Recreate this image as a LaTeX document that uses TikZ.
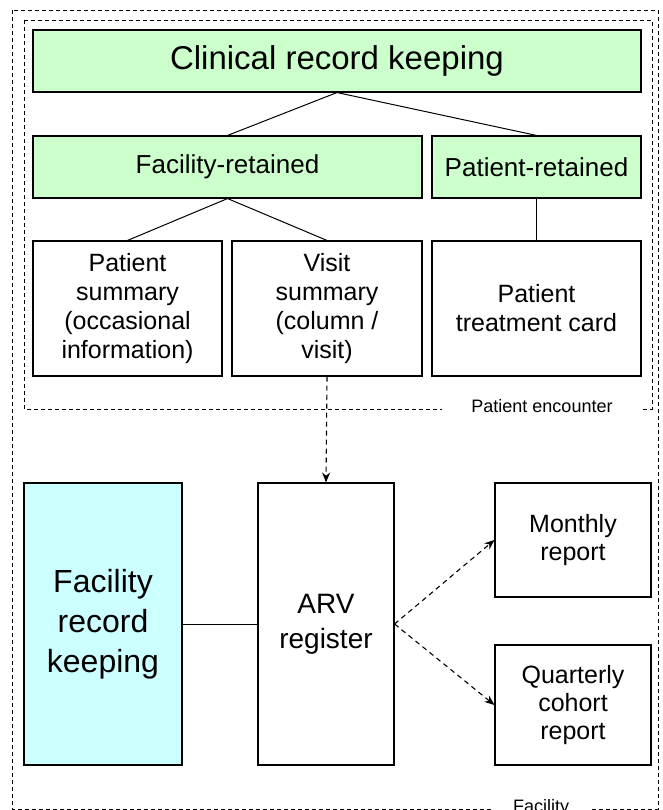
\documentclass[tikz,border=0pt]{standalone}
\usepackage{fontspec}
\setmainfont{Liberation Sans}
\usetikzlibrary{arrows.meta}
\definecolor{boxgreen}{HTML}{CCFFCC}
\definecolor{boxcyan}{HTML}{CCFFFF}

\begin{document}
\begin{tikzpicture}[x=1pt,y=-1pt,
  box/.style={draw, line width=1.1pt, align=center, inner sep=2pt},
  frame/.style={line width=0.9pt, dash pattern=on 4pt off 3pt},
  flow/.style={line width=1.1pt, dash pattern=on 5pt off 4pt, -{Stealth[length=10pt,width=8pt]}},
  tag/.style={fill=white, font=\fontsize{18}{20}\selectfont, inner sep=0pt}]
\useasboundingbox (0,0) rectangle (662,810);

% dashed frames
\draw[frame] (12,10) rectangle (658,809);
\draw[frame] (24,20) rectangle (652,409);
\node[tag, minimum width=201pt, minimum height=16pt] (enc) at (542,406) {Patient encounter};
\node[tag, minimum width=98pt, minimum height=16pt, anchor=base] (fac) at (541,812) {Facility};

% clinical record keeping
\node[box, fill=boxgreen, minimum width=608pt, minimum height=62pt,
  font=\fontsize{33}{40}\selectfont] (clin) at (337,61) {Clinical record keeping};
\node[box, fill=boxgreen, minimum width=389pt, minimum height=62pt,
  font=\fontsize{26}{30}\selectfont] (fret) at (227.5,167) {Facility-retained};
\node[box, fill=boxgreen, minimum width=209pt, minimum height=62pt,
  font=\fontsize{26}{30}\selectfont] (pret) at (536.5,167) {Patient-retained};

\node[box, minimum width=189pt, minimum height=135pt,
  font=\fontsize{25}{29}\selectfont] (psum) at (127.5,308.5) {Patient\\summary\\(occasional\\information)};
\node[box, minimum width=190pt, minimum height=135pt,
  font=\fontsize{25}{29}\selectfont] (vsum) at (327,308.5) {Visit\\summary\\(column /\\visit)};
\node[box, minimum width=209pt, minimum height=135pt,
  font=\fontsize{25}{29}\selectfont] (card) at (536.5,308.5) {Patient\\treatment card};

\draw[line width=1pt] (clin.south) -- (fret.north);
\draw[line width=1pt] (clin.south) -- (pret.north);
\draw[line width=1pt] (fret.south) -- (psum.north);
\draw[line width=1pt] (fret.south) -- (vsum.north);
\draw[line width=1pt] (pret.south) -- (card.north);

% facility record keeping
\node[box, fill=boxcyan, minimum width=158pt, minimum height=282pt,
  font=\fontsize{32}{40}\selectfont] (frk) at (103,624) {Facility\\record\\keeping};
\node[box, minimum width=136pt, minimum height=282pt,
  font=\fontsize{28}{35}\selectfont] (arv) at (326,624) {ARV\\register};
\node[box, minimum width=156pt, minimum height=114pt,
  font=\fontsize{25}{28}\selectfont] (month) at (573,540) {Monthly\\report};
\node[box, minimum width=156pt, minimum height=120pt,
  font=\fontsize{25}{28}\selectfont] (quart) at (573,705) {Quarterly\\cohort\\report};

\draw[line width=1pt] (frk.east) -- (arv.west);
\draw[flow] (vsum.south) -- (arv.north);
\draw[flow] (arv.east) -- (month.west);
\draw[flow] (arv.east) -- (quart.west);
\end{tikzpicture}
\end{document}
